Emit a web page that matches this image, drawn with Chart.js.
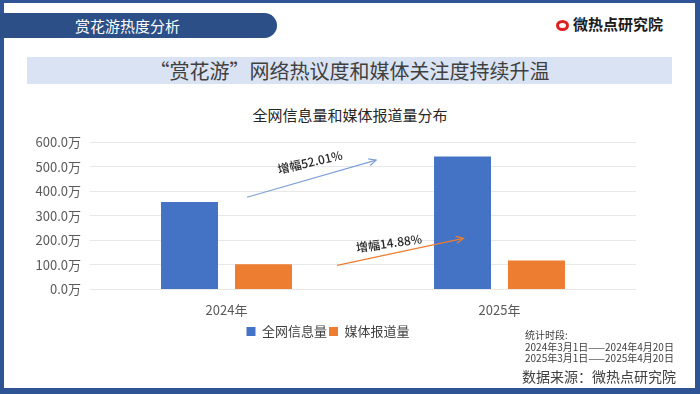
<!DOCTYPE html>
<html>
<head>
<meta charset="utf-8">
<script src="https://cdn.jsdelivr.net/npm/chart.js@4.4.1/dist/chart.umd.min.js"></script>
<style>
  html, body { margin: 0; padding: 0; }
  body {
    width: 700px; height: 394px; position: relative; overflow: hidden;
    background: #fff; font-family: "Noto Sans CJK SC", "Noto Sans", sans-serif;
  }
  .frame {
    position: absolute; left: 0; top: 0; width: 700px; height: 394px; box-sizing: border-box;
    border-style: solid; border-color: #2f5496; border-width: 3px 5px 6px 4px;
  }
  .tab {
    position: absolute; left: 0; top: 13px; width: 277px; height: 25px;
    background: #2b4f86; border-radius: 0 13px 13px 0;
    color: #fff; font-size: 15px; line-height: 25px; text-indent: 75px;
  }
  .logo {
    position: absolute; left: 556px; top: 13px; height: 22px;
    font-size: 15px; font-weight: bold; color: #1a1a1a; line-height: 22px;
  }
  .logo i {
    display: inline-block; width: 13px; height: 11px; border-radius: 50%;
    border: 3px solid #e02020; box-sizing: border-box; vertical-align: -1px; margin-right: 4px;
  }
  .band {
    position: absolute; left: 27px; top: 57px; width: 645px; height: 27px;
    background: #dae3f3; color: #404040; font-size: 20px; line-height: 27px; text-align: center;
  }
  .ctitle {
    position: absolute; left: 0; top: 104px; width: 700px; text-align: center;
    font-size: 15px; color: #262626; font-weight: 400;
  }
  .note {
    position: absolute; left: 525px; top: 329px; font-size: 10px; line-height: 11.5px; color: #404040;
  }
  .src {
    position: absolute; left: 522px; top: 366px; font-size: 14px; color: #404040;
  }
  #wrap { position: absolute; left: 20px; top: 125px; width: 630px; height: 223px; }
</style>
</head>
<body>
<div class="frame"></div>
<div class="tab">赏花游热度分析</div>
<div class="logo"><i></i>微热点研究院</div>
<div class="band">“赏花游”网络热议度和媒体关注度持续升温</div>
<div class="ctitle">全网信息量和媒体报道量分布</div>
<div id="wrap"><canvas id="chart"></canvas></div>
<div class="note">统计时段:<br>2024年3月1日——2024年4月20日<br>2025年3月1日——2025年4月20日</div>
<div class="src">数据来源：微热点研究院</div>

<script>
// categories and series (unit: 万)
const years = ['2024年', '2025年'];
const netVolume = [355.5, 540.5];
const mediaVolume = [102, 117.2];
const seriesNames = ['全网信息量', '媒体报道量'];
const growthLabels = ['增幅52.01%', '增幅14.88%'];

const blue = '#4472c4';
const orange = '#ed7d31';

// growth arrows, anchored in data space (category index, value)
const arrows = [
  { from: [0.075, 375], to: [0.548, 526], color: '#7f9fd6', text: growthLabels[0], at: [0.306, 518], angle: -13 },
  { from: [0.405, 98], to: [0.868, 208], color: orange, text: growthLabels[1], at: [0.595, 188], angle: -8 }
];

const growthPlugin = {
  id: 'growth',
  afterDatasetsDraw(chart) {
    const { ctx, scales: { x, y } } = chart;
    arrows.forEach(a => {
      const x1 = x.getPixelForValue(a.from[0]), y1 = y.getPixelForValue(a.from[1]);
      const x2 = x.getPixelForValue(a.to[0]), y2 = y.getPixelForValue(a.to[1]);
      const ang = Math.atan2(y2 - y1, x2 - x1);
      ctx.save();
      ctx.strokeStyle = a.color;
      ctx.lineWidth = 1.2;
      ctx.beginPath();
      ctx.moveTo(x1, y1);
      ctx.lineTo(x2, y2);
      ctx.stroke();
      ctx.beginPath();
      ctx.moveTo(x2 - 8 * Math.cos(ang - 0.45), y2 - 8 * Math.sin(ang - 0.45));
      ctx.lineTo(x2, y2);
      ctx.lineTo(x2 - 8 * Math.cos(ang + 0.45), y2 - 8 * Math.sin(ang + 0.45));
      ctx.stroke();
      // label
      ctx.translate(x.getPixelForValue(a.at[0]), y.getPixelForValue(a.at[1]));
      ctx.rotate(a.angle * Math.PI / 180);
      ctx.fillStyle = '#262626';
      ctx.font = '500 12px "Noto Sans CJK SC"';
      ctx.textAlign = 'center';
      ctx.textBaseline = 'middle';
      ctx.fillText(a.text, 0, 0);
      ctx.restore();
    });
  }
};

new Chart(document.getElementById('chart'), {
  type: 'bar',
  data: {
    labels: years,
    datasets: [
      { label: seriesNames[0], data: netVolume, backgroundColor: blue },
      { label: seriesNames[1], data: mediaVolume, backgroundColor: orange }
    ]
  },
  options: {
    responsive: true,
    maintainAspectRatio: false,
    animation: false,
    categoryPercentage: 0.542,
    barPercentage: 0.77,
    layout: { padding: { top: 17, right: 14, left: 0, bottom: 0 } },
    plugins: {
      legend: {
        position: 'bottom',
        labels: {
          boxWidth: 9, boxHeight: 9, padding: 2,
          color: '#404040',
          font: { family: 'Noto Sans CJK SC', size: 13 }
        }
      },
      tooltip: { enabled: false }
    },
    scales: {
      x: {
        grid: { display: false },
        border: { display: false },
        ticks: { color: '#595959', font: { family: 'Noto Sans CJK SC', size: 13 }, padding: 5 }
      },
      y: {
        min: 0, max: 600,
        afterFit: s => { s.width = 70; },
        grid: { color: '#e8e8e8', drawTicks: false },
        border: { display: false },
        ticks: {
          stepSize: 100, padding: 9,
          color: '#595959', font: { family: 'Noto Sans CJK SC', size: 13 },
          callback: v => v.toFixed(1) + '万'
        }
      }
    }
  },
  plugins: [growthPlugin]
});
</script>
</body>
</html>
